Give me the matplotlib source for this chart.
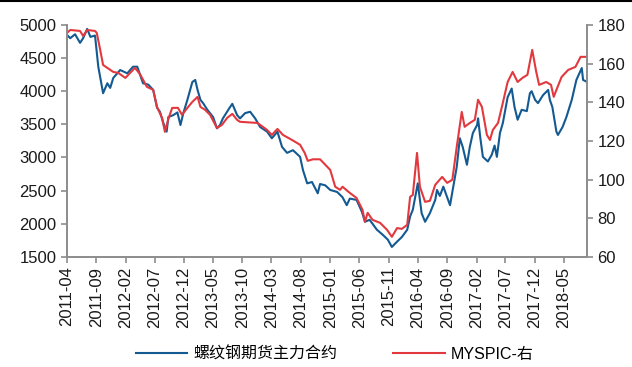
import numpy as np
import pandas as pd
import matplotlib
matplotlib.use("Agg")
import matplotlib.pyplot as plt
import matplotlib.dates as mdates
from matplotlib.lines import Line2D

plt.rcParams['font.family'] = ['Liberation Sans', 'Noto Sans CJK SC', 'DejaVu Sans']

# 螺纹钢期货主力合约 (左轴, 元/吨)
rebar_dates = [
    "2011-04-01", "2011-04-18", "2011-05-13", "2011-06-08", "2011-06-24", "2011-07-15",
    "2011-08-01", "2011-08-25", "2011-09-11", "2011-10-06", "2011-10-28", "2011-11-12",
    "2011-11-28", "2012-01-03", "2012-02-09", "2012-03-10", "2012-04-01", "2012-05-01",
    "2012-05-28", "2012-06-23", "2012-07-13", "2012-07-28", "2012-08-15", "2012-09-01",
    "2012-09-10", "2012-10-06", "2012-10-27", "2012-11-12", "2012-11-27", "2012-12-18",
    "2013-01-13", "2013-01-28", "2013-02-09", "2013-02-24", "2013-03-10", "2013-04-01",
    "2013-05-01", "2013-05-21", "2013-06-06", "2013-06-21", "2013-07-28", "2013-08-09",
    "2013-09-03", "2013-09-18", "2013-10-15", "2013-11-10", "2013-12-06", "2014-01-01",
    "2014-02-06", "2014-03-03", "2014-04-01", "2014-04-25", "2014-05-21", "2014-06-21",
    "2014-07-28", "2014-08-12", "2014-09-03", "2014-09-28", "2014-10-28", "2014-11-09",
    "2014-12-06", "2015-01-01", "2015-02-06", "2015-03-06", "2015-03-28", "2015-04-13",
    "2015-05-18", "2015-06-15", "2015-07-01", "2015-07-25", "2015-09-01", "2015-10-03",
    "2015-10-28", "2015-11-18", "2015-12-15", "2016-01-09", "2016-02-06", "2016-02-21",
    "2016-03-06", "2016-04-01", "2016-04-21", "2016-05-09", "2016-06-03", "2016-07-01",
    "2016-07-10", "2016-07-25", "2016-08-12", "2016-09-01", "2016-09-16", "2016-10-21",
    "2016-11-06", "2016-11-21", "2016-12-13", "2016-12-28", "2017-01-13", "2017-02-04",
    "2017-02-09", "2017-02-21", "2017-03-06", "2017-04-01", "2017-04-21", "2017-05-06",
    "2017-05-18", "2017-06-03", "2017-06-18", "2017-07-13", "2017-08-03", "2017-08-18",
    "2017-09-03", "2017-09-24", "2017-10-21", "2017-11-06", "2017-11-15", "2017-12-03",
    "2017-12-18", "2018-01-13", "2018-02-09", "2018-02-18", "2018-03-03", "2018-03-24",
    "2018-04-01", "2018-04-25", "2018-05-15", "2018-06-12", "2018-07-06", "2018-08-03",
    "2018-08-10", "2018-08-31",
]
rebar = [
    4850, 4800, 4860, 4730, 4800, 4940,
    4820, 4840, 4370, 3970, 4120, 4050,
    4200, 4320, 4270, 4370, 4370, 4120,
    4100, 4020, 3750, 3690, 3520, 3390,
    3610, 3640, 3680, 3490, 3670, 3870,
    4140, 4170, 4020, 3870, 3820, 3720,
    3610, 3440, 3490, 3590, 3760, 3810,
    3640, 3590, 3670, 3690, 3590, 3460,
    3390, 3290, 3390, 3160, 3070, 3110,
    3010, 2810, 2610, 2630, 2460, 2600,
    2580, 2510, 2480, 2400, 2280, 2380,
    2360, 2180, 2030, 2060, 1910, 1830,
    1760, 1650, 1730, 1800, 1910, 2110,
    2210, 2610, 2160, 2030, 2160, 2360,
    2510, 2420, 2560, 2400, 2280, 2860,
    3290, 3160, 2890, 3160, 3370, 3490,
    3590, 3290, 3010, 2940, 3040, 3180,
    3010, 3370, 3520, 3910, 4040, 3760,
    3570, 3720, 3700, 3970, 4000, 3870,
    3820, 3940, 4020, 3870, 3760, 3390,
    3340, 3460, 3610, 3870, 4170, 4350,
    4170, 4140,
]

# MYSPIC (右轴)
myspic_dates = [
    "2011-04-01", "2011-04-18", "2011-06-08", "2011-06-24", "2011-07-15", "2011-08-25",
    "2011-09-03", "2011-09-18", "2011-10-06", "2011-10-28", "2011-11-28", "2011-12-24",
    "2012-01-30", "2012-02-24", "2012-03-20", "2012-04-15", "2012-05-21", "2012-06-23",
    "2012-07-13", "2012-08-08", "2012-08-23", "2012-09-10", "2012-09-30", "2012-10-30",
    "2012-11-20", "2012-12-18", "2013-01-13", "2013-02-09", "2013-02-24", "2013-03-20",
    "2013-04-15", "2013-05-21", "2013-06-16", "2013-07-13", "2013-08-09", "2013-09-03",
    "2013-09-18", "2013-12-18", "2014-02-06", "2014-03-03", "2014-04-01", "2014-04-30",
    "2014-06-16", "2014-07-28", "2014-08-21", "2014-09-06", "2014-10-03", "2014-11-09",
    "2015-01-01", "2015-01-27", "2015-02-21", "2015-03-06", "2015-04-13", "2015-05-18",
    "2015-06-18", "2015-07-01", "2015-07-15", "2015-08-09", "2015-09-18", "2015-10-24",
    "2015-11-18", "2015-12-15", "2016-01-09", "2016-02-06", "2016-02-21", "2016-03-06",
    "2016-03-28", "2016-04-12", "2016-05-09", "2016-06-03", "2016-07-01", "2016-08-06",
    "2016-09-01", "2016-09-28", "2016-10-21", "2016-11-16", "2016-12-01", "2016-12-28",
    "2017-01-23", "2017-02-09", "2017-03-01", "2017-03-27", "2017-04-12", "2017-04-27",
    "2017-05-24", "2017-06-18", "2017-07-13", "2017-08-08", "2017-09-03", "2017-09-28",
    "2017-10-24", "2017-11-18", "2017-12-09", "2017-12-24", "2018-01-30", "2018-02-24",
    "2018-03-10", "2018-03-24", "2018-04-20", "2018-05-24", "2018-07-01", "2018-07-28",
    "2018-08-31",
]
myspic = [
    175.9, 177.4, 176.9, 174.3, 177.4, 176.9,
    175.9, 168.6, 159.3, 157.8, 155.7, 155.2,
    152.6, 155.2, 157.8, 154.6, 148.0, 146.4,
    137.6, 131.9, 124.7, 131.4, 137.1, 137.1,
    133.5, 137.1, 140.2, 142.8, 137.6, 136.1,
    133.5, 126.7, 128.3, 131.9, 134.0, 130.9,
    129.9, 129.3, 125.7, 123.1, 126.2, 123.1,
    120.5, 118.0, 113.8, 109.7, 110.5, 110.5,
    105.0, 96.3, 94.7, 96.3, 93.1, 90.5,
    84.4, 78.2, 82.8, 79.2, 77.6, 74.0,
    70.4, 74.9, 74.5, 76.6, 91.1, 92.0,
    113.8, 96.3, 88.5, 89.0, 97.3, 101.4,
    98.3, 99.9, 117.0, 135.0, 127.3, 129.3,
    130.9, 141.3, 137.6, 123.1, 120.5, 125.7,
    129.3, 139.7, 150.5, 155.7, 150.5, 152.6,
    154.2, 167.1, 155.7, 149.0, 150.5, 149.0,
    142.8, 146.4, 153.1, 156.7, 158.3, 163.5,
    163.5,
]

tick_dates = pd.date_range("2011-04-01", "2018-05-01", freq="5MS")

blue = "#135A92"
red = "#E2393F"
grey = "#8C8C8C"

fig = plt.figure(figsize=(6.32, 3.67), dpi=100)
ax = fig.add_axes([0.106, 0.300, 0.823, 0.632])
ax2 = ax.twinx()

l1, = ax.plot(pd.to_datetime(rebar_dates), rebar, color=blue, lw=1.5, label="螺纹钢期货主力合约")
l2, = ax2.plot(pd.to_datetime(myspic_dates), myspic, color=red, lw=1.5, label="MYSPIC-右")

ax.set_xlim(pd.Timestamp("2011-04-01"), pd.Timestamp("2018-08-31"))
ax.set_ylim(1500, 5000)
ax.set_yticks(np.arange(1500, 5001, 500))
ax2.set_ylim(60, 180)
ax2.set_yticks(np.arange(60, 181, 20))

ax.set_xticks(tick_dates)
ax.xaxis.set_major_formatter(mdates.DateFormatter("%Y-%m"))
for lbl in ax.get_xticklabels():
    lbl.set_rotation(90)

for a in (ax, ax2):
    for s in a.spines.values():
        s.set_color(grey)
        s.set_linewidth(1.2)
    a.spines["top"].set_visible(False)
    a.tick_params(colors=grey, labelcolor="#1a1a1a", labelsize=12, length=4, width=1.2)
ax.tick_params(axis="x", pad=3)

fig.legend(handles=[l1, l2], loc="center", bbox_to_anchor=(0.53, 0.035), ncol=2,
           frameon=False, fontsize=11.5, handlelength=3.2, columnspacing=3.5,
           handletextpad=0.4)

# 顶部黑线
fig.add_artist(Line2D([0, 1], [0.997, 0.997], transform=fig.transFigure, color="black", lw=1.5))

fig.savefig("out.png", dpi=100)
